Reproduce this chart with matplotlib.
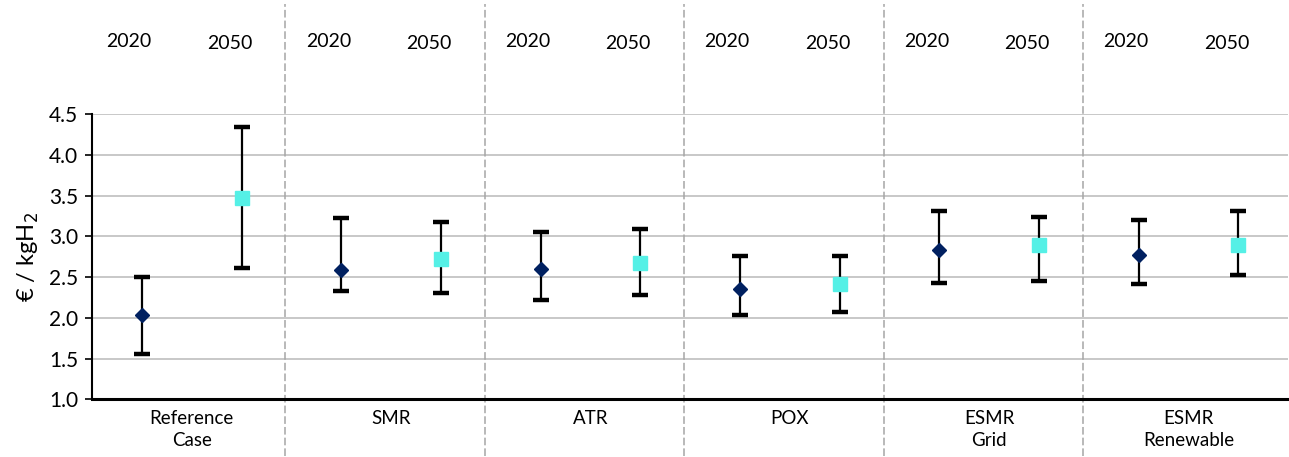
import numpy as np
import matplotlib
matplotlib.use('Agg')
import matplotlib.pyplot as plt

# hydrogen production cost ranges per technology, 2020 vs 2050
groups = ['Reference\nCase', 'SMR', 'ATR', 'POX', 'ESMR\nGrid', 'ESMR\nRenewable']
years = ['2020', '2050']

mid_2020 = [2.03, 2.59, 2.60, 2.35, 2.83, 2.77]
low_2020 = [1.56, 2.33, 2.22, 2.04, 2.43, 2.42]
high_2020 = [2.50, 3.23, 3.05, 2.76, 3.31, 3.20]

mid_2050 = [3.47, 2.72, 2.67, 2.41, 2.89, 2.89]
low_2050 = [2.61, 2.31, 2.28, 2.07, 2.45, 2.52]
high_2050 = [4.34, 3.18, 3.09, 2.76, 3.24, 3.31]

plt.rcParams['font.family'] = ['Lato', 'DejaVu Sans']

fig = plt.figure(figsize=(12.89, 4.57), dpi=100)
ax = fig.add_axes([0.0714, 0.1263, 0.928, 0.6242])

n = len(groups)
x20 = np.arange(n) * 2
x50 = x20 + 1

def draw(x, mid, low, high, marker, color, ms):
    mid = np.array(mid)
    err = [mid - np.array(low), np.array(high) - mid]
    ax.errorbar(x, mid, yerr=err, fmt='none', ecolor='black', elinewidth=1.6,
                capsize=5.5, capthick=3.2, zorder=3)
    ax.plot(x, mid, linestyle='none', marker=marker, color=color,
            markersize=ms, zorder=4)

draw(x20, mid_2020, low_2020, high_2020, 'D', '#002060', 7.5)
draw(x50, mid_2050, low_2050, high_2050, 's', '#55F0E6', 9.5)

ax.set_xlim(-0.5, 2 * n - 0.5)
ax.set_ylim(1.0, 4.5)
ax.set_yticks(np.arange(1.0, 4.51, 0.5))
ax.set_yticklabels(['%.1f' % v for v in np.arange(1.0, 4.51, 0.5)], fontsize=15)
ax.yaxis.grid(True, color='#BFBFBF', linewidth=1.2)
ax.set_axisbelow(True)
ax.tick_params(axis='y', length=5, width=1.2, pad=5)
ax.set_xticks([])

for side in ['top', 'right']:
    ax.spines[side].set_visible(False)
ax.spines['left'].set_linewidth(1.5)
ax.spines['bottom'].set_linewidth(2.2)

ax.set_ylabel('€ / kgH$_2$', fontsize=17, labelpad=6)

# group separators run through the whole figure height
for k in range(1, n):
    xs = 2 * k - 0.56
    ax.plot([xs, xs], [0.3, 5.85], linestyle=(0, (5, 2)), color='#A6A6A6',
            linewidth=1.1, clip_on=False, zorder=1)

for i, g in enumerate(groups):
    ax.text(2 * i + 0.5, 0.87, g, ha='center', va='top', fontsize=13.5,
            linespacing=1.4)
    ax.text(x20[i] - 0.13, 5.39, years[0], ha='center', va='center', fontsize=14)
    ax.text(x50[i] - 0.12, 5.36, years[1], ha='center', va='center', fontsize=14)

fig.savefig('out.png', dpi=100)
